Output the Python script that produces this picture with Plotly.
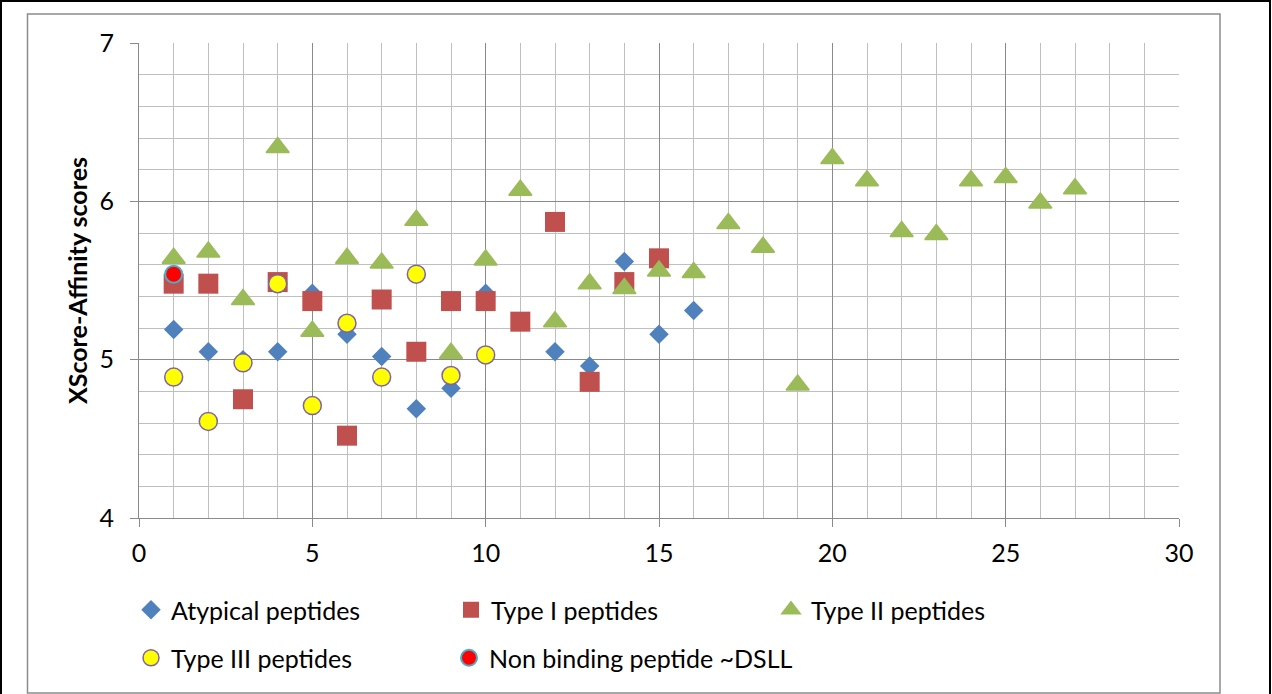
import plotly.graph_objects as go

# ---- data -------------------------------------------------------------
atypical_x = [1, 2, 3, 4, 5, 6, 7, 8, 9, 10, 12, 13, 14, 15, 16]
atypical_y = [5.19, 5.05, 5.00, 5.05, 5.42, 5.16, 5.02, 4.69, 4.82, 5.42,
              5.05, 4.96, 5.62, 5.16, 5.31]

type1_x = list(range(1, 16))
type1_y = [5.48, 5.48, 4.75, 5.49, 5.37, 4.52, 5.38, 5.05, 5.37, 5.37,
           5.24, 5.87, 4.86, 5.49, 5.64]

type2_x = list(range(1, 28))
type2_y = [5.64, 5.68, 5.38, 6.34, 5.18, 5.64, 5.61, 5.88, 5.04, 5.63,
           6.07, 5.24, 5.48, 5.45, 5.56, 5.55, 5.86, 5.71, 4.84, 6.27,
           6.13, 5.81, 5.79, 6.13, 6.15, 5.99, 6.08]

type3_x = list(range(1, 11))
type3_y = [4.89, 4.61, 4.98, 5.48, 4.71, 5.23, 4.89, 5.54, 4.90, 5.03]

nonbind_x = [1]
nonbind_y = [5.54]

# ---- page geometry ----------------------------------------------------
W, H = 1272, 694
ML, MR, MT, MB = 139, 93, 43, 176
PW, PH = W - ML - MR, H - MT - MB


def px(x):
    return (x - ML) / PW


def py(y):
    return (H - MB - y) / PH


FONT = "Lato"

fig = go.Figure()

fig.add_trace(go.Scatter(
    x=atypical_x, y=atypical_y, mode="markers", name="Atypical peptides",
    marker=dict(symbol="diamond", size=15, color="#4f81bd"),
    legend="legend"))
fig.add_trace(go.Scatter(
    x=type1_x, y=type1_y, mode="markers", name="Type I peptides",
    marker=dict(symbol="square", size=20, color="#c0504d"),
    legend="legend"))
fig.add_trace(go.Scatter(
    x=type2_x, y=type2_y, mode="markers", name="Type II peptides",
    marker=dict(symbol="triangle-up", size=20, color="#9bbb59",
                line=dict(color="#9bbb59", width=1.5)),
    legend="legend"))
fig.add_trace(go.Scatter(
    x=type3_x, y=type3_y, mode="markers", name="Type III peptides",
    marker=dict(symbol="circle", size=18, color="#ffff00",
                line=dict(color="#7f63a8", width=1.5)),
    legend="legend2"))
fig.add_trace(go.Scatter(
    x=nonbind_x, y=nonbind_y, mode="markers",
    name="Non binding peptide ~DSLL",
    marker=dict(symbol="circle", size=17, color="#ff0000",
                line=dict(color="#4bacc6", width=2)),
    legend="legend3"))

axis_common = dict(
    showgrid=True, gridcolor="#8a8a8a", gridwidth=1,
    showline=True, linecolor="#8a8a8a", linewidth=1,
    ticks="outside", ticklen=8, tickcolor="#8a8a8a", tickwidth=1,
    zeroline=False,
    tickfont=dict(family=FONT, size=25, color="#000000"),
)

fig.update_xaxes(range=[0, 30], tick0=0, dtick=5,
                 minor=dict(dtick=1, showgrid=True, gridcolor="#bfbfbf",
                            gridwidth=1),
                 ticklabelstandoff=5,
                 **axis_common)
fig.update_yaxes(range=[4, 7], tick0=4, dtick=1,
                 minor=dict(dtick=0.2, showgrid=True, gridcolor="#bfbfbf",
                            gridwidth=1),
                 ticklabelstandoff=11,
                 title=dict(text="<b>XScore-Affinity scores</b>",
                            font=dict(family=FONT, size=25, color="#000000"),
                            standoff=4),
                 **axis_common)

legend_common = dict(
    orientation="h", xanchor="left", yanchor="middle",
    font=dict(family=FONT, size=25, color="#000000"),
    bgcolor="rgba(0,0,0,0)", borderwidth=0,
    itemwidth=30,
)

fig.update_layout(
    width=W, height=H,
    margin=dict(l=ML, r=MR, t=MT, b=MB, pad=0),
    paper_bgcolor="#ffffff", plot_bgcolor="#ffffff",
    showlegend=True,
    legend=dict(x=px(131), y=py(610), entrywidth=275,
                entrywidthmode="pixels", **legend_common),
    legend2=dict(x=px(131), y=py(658), **legend_common),
    legend3=dict(x=px(449), y=py(658), **legend_common),
    shapes=[
        # outer black frame
        dict(type="rect", xref="paper", yref="paper",
             x0=px(1), x1=px(1270), y0=py(720), y1=py(1),
             line=dict(color="#000000", width=2), layer="below"),
        # chart-area border
        dict(type="rect", xref="paper", yref="paper",
             x0=px(27.5), x1=px(1220), y0=py(693), y1=py(14),
             line=dict(color="#8c8c8c", width=1.5), layer="below"),
    ],
)

fig.write_html("out.html")
